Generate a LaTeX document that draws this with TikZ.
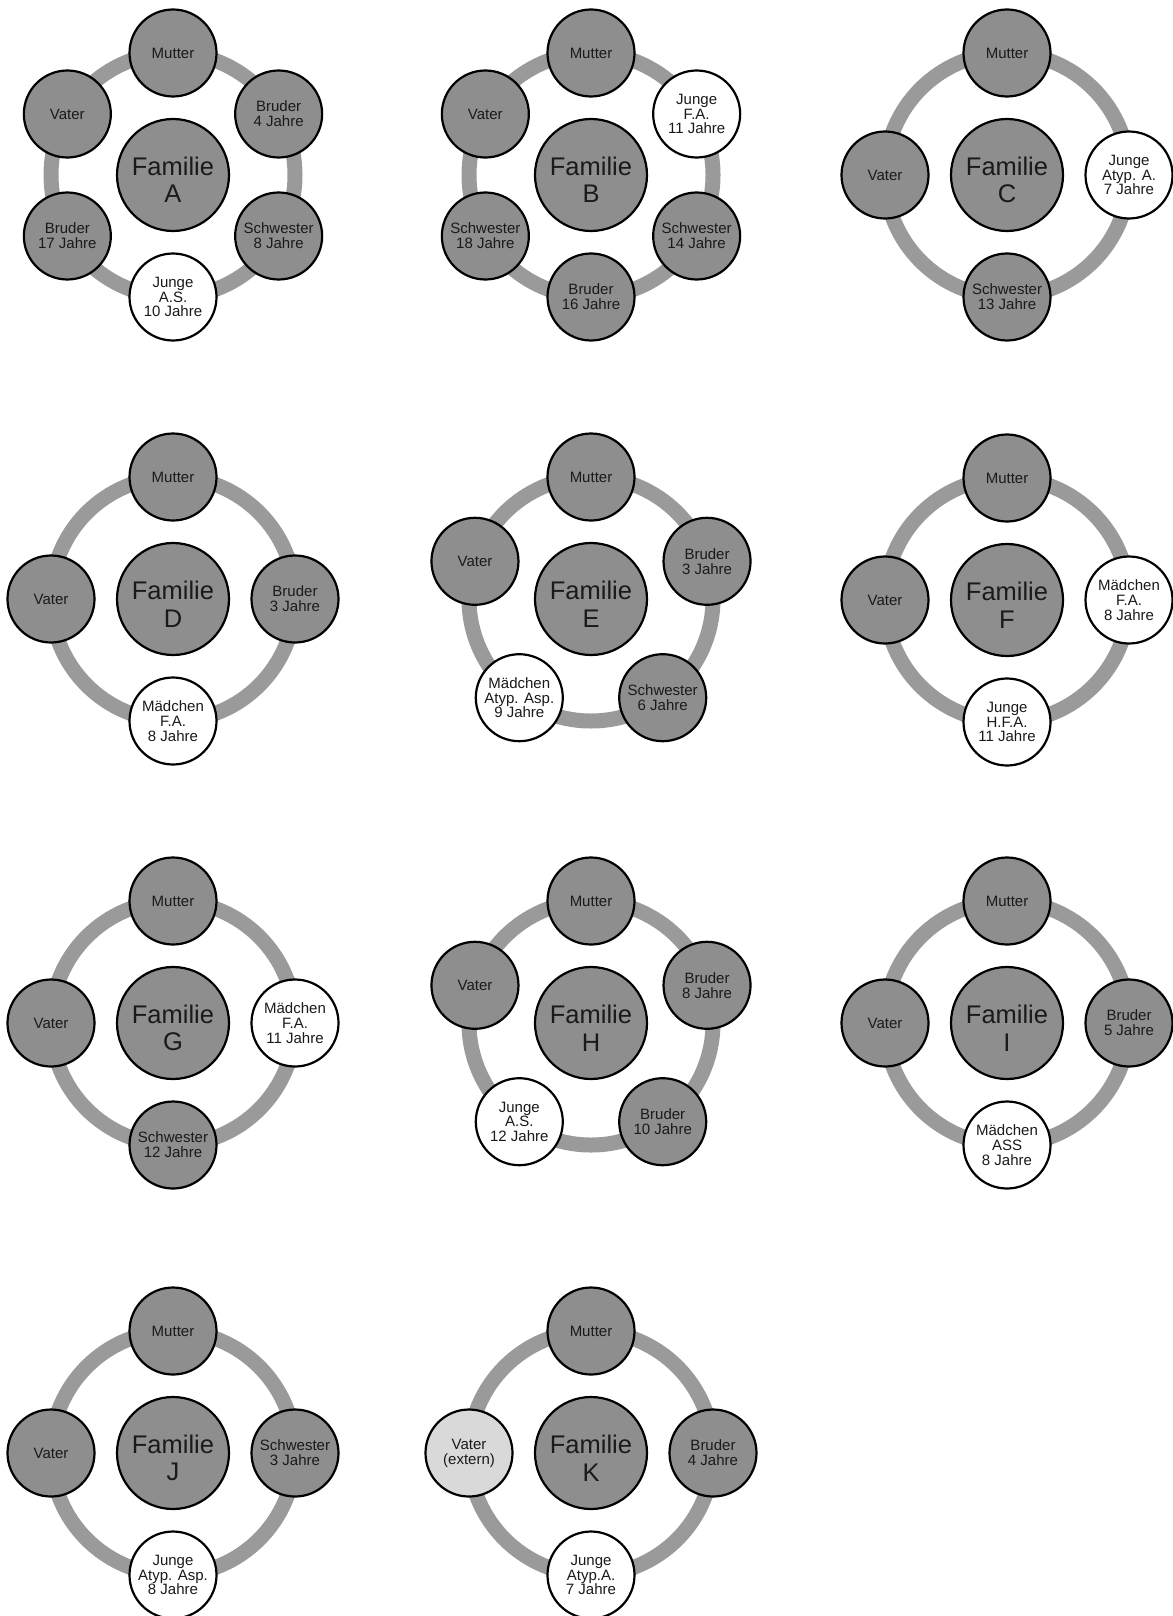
\documentclass[tikz,border=0pt]{standalone}
\usepackage{fontspec}
\setmainfont{Liberation Sans}
\definecolor{nodegray}{HTML}{8E8E8E}
\definecolor{ringgray}{HTML}{9A9A9A}
\definecolor{extgray}{HTML}{D9D9D9}
\definecolor{txt}{HTML}{1A1A1A}
\newcommand{\famstrut}{\rule{0pt}{28.5pt}}
\tikzset{
  ring/.style={draw=ringgray, line width=15pt},
  fam/.style={circle, draw=black, line width=2.2pt, fill=nodegray, minimum size=112pt,
    inner sep=0pt, align=center, text=txt, font=\fontsize{25.5}{27.5}\selectfont},
  mem/.style={circle, draw=black, line width=2.2pt, fill=nodegray, minimum size=87pt,
    inner sep=0pt, align=center, text=txt, font=\fontsize{15}{14.8}\selectfont},
  pat/.style={mem, fill=white},
  ext/.style={mem, fill=extgray}
}
\begin{document}
\begin{tikzpicture}[x=1pt,y=-1pt]
\useasboundingbox[fill=white] (0,0) rectangle (1172,1616);

% ---------- Familie A ----------
\begin{scope}[shift={(173,175)}]
\draw[ring] (0,0) circle (122);
\node[fam] (A) at (0,0) {\famstrut Familie\\A};
\node[mem] (A1) at (90:-122) {Mutter};
\node[mem] (A2) at (-30:122) {Bruder\\4 Jahre};
\node[mem] (A3) at (30:122) {Schwester\\8 Jahre};
\node[pat] (A4) at (90:122) {Junge\\A.S.\\10 Jahre};
\node[mem] (A5) at (150:122) {Bruder\\17 Jahre};
\node[mem] (A6) at (210:122) {Vater};
\end{scope}

% ---------- Familie B ----------
\begin{scope}[shift={(591,175)}]
\draw[ring] (0,0) circle (122);
\node[fam] (B) at (0,0) {\famstrut Familie\\B};
\node[mem] (B1) at (90:-122) {Mutter};
\node[pat] (B2) at (-30:122) {Junge\\F.A.\\11 Jahre};
\node[mem] (B3) at (30:122) {Schwester\\14 Jahre};
\node[mem] (B4) at (90:122) {Bruder\\16 Jahre};
\node[mem] (B5) at (150:122) {Schwester\\18 Jahre};
\node[mem] (B6) at (210:122) {Vater};
\end{scope}

% ---------- Familie C ----------
\begin{scope}[shift={(1007,175)}]
\draw[ring] (0,0) circle (122);
\node[fam] (C) at (0,0) {\famstrut Familie\\C};
\node[mem] (C1) at (90:-122) {Mutter};
\node[pat] (C2) at (0:122) {Junge\\Atyp. A.\\7 Jahre};
\node[mem] (C3) at (90:122) {Schwester\\13 Jahre};
\node[mem] (C4) at (180:122) {Vater};
\end{scope}

% ---------- Familie D ----------
\begin{scope}[shift={(173,599)}]
\draw[ring] (0,0) circle (122);
\node[fam] (D) at (0,0) {\famstrut Familie\\D};
\node[mem] (D1) at (90:-122) {Mutter};
\node[mem] (D2) at (0:122) {Bruder\\3 Jahre};
\node[pat] (D3) at (90:122) {Mädchen\\F.A.\\8 Jahre};
\node[mem] (D4) at (180:122) {Vater};
\end{scope}

% ---------- Familie E ----------
\begin{scope}[shift={(591,599)}]
\draw[ring] (0,0) circle (122);
\node[fam] (E) at (0,0) {\famstrut Familie\\E};
\node[mem] (E1) at (90:-122) {Mutter};
\node[mem] (E2) at (-18:122) {Bruder\\3 Jahre};
\node[mem] (E3) at (54:122) {Schwester\\6 Jahre};
\node[pat] (E4) at (126:122) {Mädchen\\Atyp. Asp.\\9 Jahre};
\node[mem] (E5) at (198:122) {Vater};
\end{scope}

% ---------- Familie F ----------
\begin{scope}[shift={(1007,600)}]
\draw[ring] (0,0) circle (122);
\node[fam] (F) at (0,0) {\famstrut Familie\\F};
\node[mem] (F1) at (90:-122) {Mutter};
\node[pat] (F2) at (0:122) {Mädchen\\F.A.\\8 Jahre};
\node[pat] (F3) at (90:122) {Junge\\H.F.A.\\11 Jahre};
\node[mem] (F4) at (180:122) {Vater};
\end{scope}

% ---------- Familie G ----------
\begin{scope}[shift={(173,1023)}]
\draw[ring] (0,0) circle (122);
\node[fam] (G) at (0,0) {\famstrut Familie\\G};
\node[mem] (G1) at (90:-122) {Mutter};
\node[pat] (G2) at (0:122) {Mädchen\\F.A.\\11 Jahre};
\node[mem] (G3) at (90:122) {Schwester\\12 Jahre};
\node[mem] (G4) at (180:122) {Vater};
\end{scope}

% ---------- Familie H ----------
\begin{scope}[shift={(591,1023)}]
\draw[ring] (0,0) circle (122);
\node[fam] (H) at (0,0) {\famstrut Familie\\H};
\node[mem] (H1) at (90:-122) {Mutter};
\node[mem] (H2) at (-18:122) {Bruder\\8 Jahre};
\node[mem] (H3) at (54:122) {Bruder\\10 Jahre};
\node[pat] (H4) at (126:122) {Junge\\A.S.\\12 Jahre};
\node[mem] (H5) at (198:122) {Vater};
\end{scope}

% ---------- Familie I ----------
\begin{scope}[shift={(1007,1023)}]
\draw[ring] (0,0) circle (122);
\node[fam] (I) at (0,0) {\famstrut Familie\\I};
\node[mem] (I1) at (90:-122) {Mutter};
\node[mem] (I2) at (0:122) {Bruder\\5 Jahre};
\node[pat] (I3) at (90:122) {Mädchen\\ASS\\8 Jahre};
\node[mem] (I4) at (180:122) {Vater};
\end{scope}

% ---------- Familie J ----------
\begin{scope}[shift={(173,1453)}]
\draw[ring] (0,0) circle (122);
\node[fam] (J) at (0,0) {\famstrut Familie\\J};
\node[mem] (J1) at (90:-122) {Mutter};
\node[mem] (J2) at (0:122) {Schwester\\3 Jahre};
\node[pat] (J3) at (90:122) {Junge\\Atyp. Asp.\\8 Jahre};
\node[mem] (J4) at (180:122) {Vater};
\end{scope}

% ---------- Familie K ----------
\begin{scope}[shift={(591,1453)}]
\draw[ring] (0,0) circle (122);
\node[fam] (K) at (0,0) {\famstrut Familie\\K};
\node[mem] (K1) at (90:-122) {Mutter};
\node[mem] (K2) at (0:122) {Bruder\\4 Jahre};
\node[pat] (K3) at (90:122) {Junge\\Atyp.A.\\7 Jahre};
\node[ext] (K4) at (180:122) {Vater\\(extern)};
\end{scope}
\end{tikzpicture}
\end{document}
